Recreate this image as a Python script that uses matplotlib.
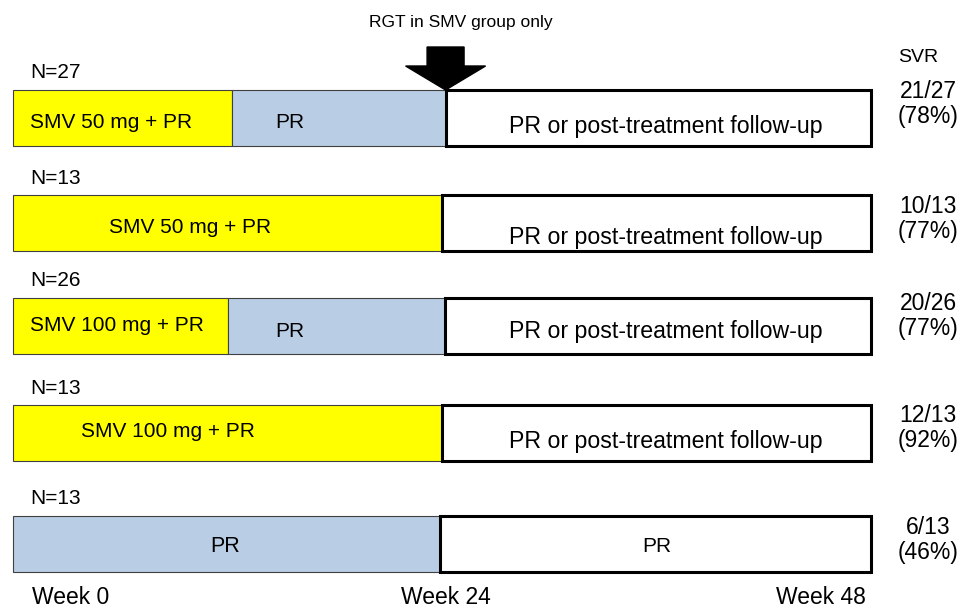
import matplotlib
matplotlib.use('Agg')
import matplotlib.pyplot as plt
from matplotlib.patches import FancyArrow

plt.rcParams['font.family'] = ['Liberation Sans', 'DejaVu Sans']

# ---- data (x in weeks, one row per arm) ----
n_labels = ['N=27', 'N=13', 'N=26', 'N=13', 'N=13']
smv_labels = ['SMV 50 mg + PR', 'SMV 50 mg + PR', 'SMV 100 mg + PR', 'SMV 100 mg + PR', '']
smv_end = [12.25, 24.0, 12.05, 24.0, 0.0]
pr_end = [24.2, 24.0, 24.15, 24.0, 23.9]
follow_labels = ['PR or post-treatment follow-up'] * 4 + ['PR']
total_weeks = 48
svr_frac = ['21/27', '10/13', '20/26', '12/13', '6/13']
svr_pct = ['(78%)', '(77%)', '(77%)', '(92%)', '(46%)']
week_labels = ['Week 0', 'Week 24', 'Week 48']
rgt_week = 24.2

# ---- layout ----
PXW = 17.875   # pixels per week
PXR = 106.5    # pixels per row step
bar_h = 56 / PXR
yellow = '#FFFF00'
blue = '#B9CDE5'
# row centres are not evenly spaced in the slide
row_pos = [0.0, 0.986, 1.953, 2.958, 4.0]

fig = plt.figure(figsize=(9.63, 6.08), dpi=100)
ax = fig.add_axes([0, 0, 1, 1])
x0 = -13 / PXW
ax.set_xlim(x0, x0 + 963 / PXW)
y0 = -118 / PXR
ax.set_ylim(y0 + 608 / PXR, y0)
ax.axis('off')

smv_text_x = [0.95, 9.9, 0.95, 3.8, None]
smv_text_ha = ['left', 'center', 'left', 'left', 'left']
pr_text_x = [15.5, None, 15.5, None, 11.85]
smv_dy = [4, 4, 0, -2, 0]
pr_dy = [4, 0, 6, 0, 2]
follow_dy = [8, 14, 6, 8, 2]
frac_dy = [-26, -17, -22, -18, -16]

for i, y in enumerate(row_pos):
    # SMV + PR phase
    if smv_end[i] > 0:
        ax.barh(y, smv_end[i], left=0, height=bar_h, color=yellow,
                edgecolor='#404040', linewidth=0.8, zorder=2)
        ax.text(smv_text_x[i], y + smv_dy[i] / PXR, smv_labels[i], fontsize=15,
                ha=smv_text_ha[i], va='center', zorder=5)
    # PR only phase
    if pr_end[i] - smv_end[i] > 0.01:
        ax.barh(y, pr_end[i] - smv_end[i], left=smv_end[i], height=bar_h,
                color=blue, edgecolor='#404040', linewidth=0.8, zorder=2)
        ax.text(pr_text_x[i], y + pr_dy[i] / PXR, 'PR',
                fontsize=15.5 if i == 4 else 15, ha='center', va='center', zorder=5)
    # PR or follow-up
    ax.barh(y, total_weeks - pr_end[i], left=pr_end[i], height=bar_h,
            color='white', edgecolor='black', linewidth=2.2, zorder=3)
    fx = 36.0 if i == 4 else 36.5
    ax.text(fx, y + follow_dy[i] / PXR, follow_labels[i],
            fontsize=15 if i == 4 else 16.7, ha='center', va='center', zorder=5)

    ax.text(0.95, y - bar_h / 2 - 17 / PXR, n_labels[i], fontsize=15,
            ha='left', va='center')
    ax.text(51.2, y + frac_dy[i] / PXR, svr_frac[i], fontsize=16.5,
            ha='center', va='center')
    ax.text(51.2, y + (frac_dy[i] + 25) / PXR, svr_pct[i], fontsize=16.5,
            ha='center', va='center')

ax.text(50.65, -0.57, 'SVR', fontsize=14, ha='center', va='center')

# week labels
week_x = [1.05, 24.2, 47.7]
week_ha = ['left', 'center', 'right']
for wx, lab, ha in zip(week_x, week_labels, week_ha):
    ax.text(wx, 4.5, lab, fontsize=16.5, ha=ha, va='center')

# response-guided therapy arrow
top = -bar_h / 2
arrow = FancyArrow(rgt_week, top - 43 / PXR, 0, 43 / PXR, width=37 / PXW,
                   head_width=80 / PXW, head_length=24 / PXR,
                   length_includes_head=True, color='black', zorder=6)
ax.add_patch(arrow)
ax.text(25.05, -0.9, 'RGT in SMV group only', fontsize=12.5, ha='center', va='center')

fig.savefig('out.png', dpi=100)
